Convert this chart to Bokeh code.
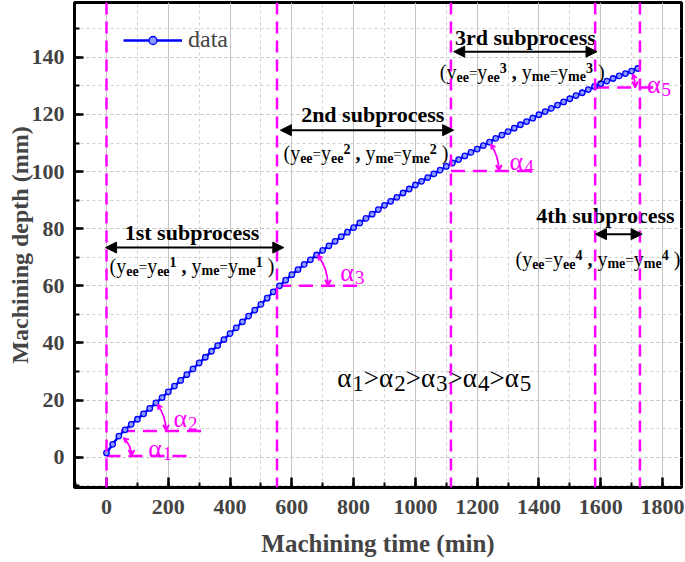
import math
from bokeh.plotting import figure
from bokeh.models import (Range1d, FixedTicker, Span, Arrow, NormalHead, VeeHead,
                          ColumnDataSource, Legend, LegendItem)
from bokeh.core.properties import value
from bokeh.embed import file_html
from bokeh.resources import INLINE

# ---------------- data ----------------
time_min = list(range(0, 1740, 20))
depth_mm = [1.5, 4.5, 7.4, 9.6, 11.5, 13.3, 15.2, 17.1, 19.0, 20.9,
            22.9, 24.9, 26.9, 28.9, 30.9, 33.0, 35.0, 37.1, 39.1, 41.2,
            43.3, 45.3, 47.4, 49.4, 51.5, 53.5, 55.7, 57.9, 60.0, 62.0,
            63.9, 65.7, 67.5, 69.1, 70.8, 72.4, 74.0, 75.6, 77.2, 78.8,
            80.4, 82.0, 83.6, 85.1, 86.7, 88.2, 89.6, 91.0, 92.5, 93.9,
            95.3, 96.6, 97.9, 99.2, 100.5, 101.8, 103.0, 104.2, 105.5, 106.7,
            107.9, 109.1, 110.3, 111.6, 112.8, 114.0, 115.2, 116.4, 117.5, 118.7,
            119.9, 121.0, 122.1, 123.3, 124.4, 125.5, 126.6, 127.6, 128.7, 129.8,
            130.8, 131.7, 132.6, 133.5, 134.3, 135.2, 136.1]

x_ticks = [0, 200, 400, 600, 800, 1000, 1200, 1400, 1600, 1800]
y_ticks = [0, 20, 40, 60, 80, 100, 120, 140]

# subprocess boundaries (min)
bound_t = [0, 552, 1115, 1582, 1727]
# angle reference lines
ref_x0 = [0, 47, 552, 1115, 1582]
ref_x1 = [278, 330, 820, 1392, 1777]
ref_y = [0.4, 9.2, 60.0, 100.2, 129.4]
arc_r = [25, 45, 51, 48, 40]
arc_deg = [47, 36, 37, 34, 20]
alpha_x = [135, 217, 757, 1305, 1750]
alpha_y = [2.9, 13.5, 64.7, 103.7, 130.6]
alpha_sub = ["1", "2", "3", "4", "5"]

# subprocess arrows / titles / formulas
sub_names = ["1st subprocess", "2nd subprocess", "3rd subprocess", "4th subprocess"]
sub_idx = ["1", "2", "3", "4"]
arrow_x0 = [-3, 563, 1124, 1583]
arrow_x1 = [574, 1124, 1588, 1734]
arrow_y = [73.4, 114.5, 142.0, 78.1]
title_x = [277, 862, 1356, 1615]
title_y = [78.6, 120.1, 146.9, 84.5]
form_x = [10, 573, 1079, 1324]
form_y = [67.0, 106.5, 134.9, 69.5]

SERIF = "Liberation Serif"
MAG = "#FF00FF"
BLUE = "#0000FF"

X0, X1 = -103.6, 1861.5
Y0, Y1 = -10.6, 159.2
FRAME_W, FRAME_H = 607, 485
kx = FRAME_W / (X1 - X0)
ky = FRAME_H / (Y1 - Y0)

p = figure(width=685, height=562, output_backend="svg", toolbar_location=None,
           x_range=Range1d(X0, X1), y_range=Range1d(Y0, Y1),
           min_border_left=74, min_border_right=4, min_border_top=2, min_border_bottom=75)
p.background_fill_color = "white"
p.border_fill_color = "white"
p.outline_line_color = "black"
p.outline_line_width = 3

# axes
for ax in (p.xaxis[0], p.yaxis[0]):
    ax.axis_line_width = 3
    ax.major_tick_line_width = 2.5
    ax.minor_tick_line_width = 2
    ax.major_tick_out = 0
    ax.minor_tick_out = 0
    ax.major_label_text_font = SERIF
    ax.major_label_text_font_style = "bold"
    ax.major_label_text_font_size = "22px"
    ax.axis_label_text_font = SERIF
    ax.axis_label_text_font_style = "bold"
p.xaxis.ticker = FixedTicker(ticks=x_ticks, minor_ticks=list(range(-100, 1900, 100)))
p.yaxis.ticker = FixedTicker(ticks=y_ticks, minor_ticks=list(range(-10, 160, 10)))
p.xaxis.major_tick_in = 10
p.xaxis.minor_tick_in = 5
p.yaxis.major_tick_in = 9
p.yaxis.minor_tick_in = 5
p.xaxis.major_label_standoff = 12
p.yaxis.major_label_standoff = 10
p.xaxis.axis_label = "Machining time (min)"
p.yaxis.axis_label = "Machining depth (mm)"
p.xaxis.axis_label_text_font_size = "25px"
p.yaxis.axis_label_text_font_size = "24px"
p.xaxis.axis_label_standoff = 13
p.yaxis.axis_label_standoff = -4

# grid
p.xgrid.grid_line_color = "#c4c4c4"
p.xgrid.grid_line_width = 1
p.xgrid.minor_grid_line_color = "#d0d0d0"
p.xgrid.minor_grid_line_dash = "3 3"
p.ygrid.grid_line_color = "#c4c4c4"
p.ygrid.grid_line_dash = "3 3"
p.ygrid.minor_grid_line_color = "#d0d0d0"
p.ygrid.minor_grid_line_dash = "3 3"

# boundaries
for t in bound_t:
    p.add_layout(Span(location=t, dimension="height", line_color=MAG,
                      line_dash="12 7", line_width=2.5))

# reference horizontal lines
p.segment(x0=ref_x0, x1=ref_x1, y0=ref_y, y1=ref_y, line_color=MAG,
          line_dash="14 8", line_width=2.5)

# angle arcs
p.arc(x=ref_x0, y=ref_y, radius=arc_r, radius_units="screen",
      start_angle=[0] * 5, end_angle=[math.radians(d) for d in arc_deg],
      line_color=MAG, line_width=1.8)
for vx, vy, r, d in zip(ref_x0, ref_y, arc_r, arc_deg):
    ex = vx + r / kx
    p.add_layout(Arrow(end=VeeHead(size=6, line_color=MAG, line_width=1.6),
                       x_start=ex, y_start=vy + 4 / ky, x_end=ex, y_end=vy,
                       line_color=MAG, line_width=1.6))
    th = math.radians(d)
    bx = vx + r * math.cos(th) / kx
    by = vy + r * math.sin(th) / ky
    p.add_layout(Arrow(end=VeeHead(size=5, line_color=MAG, line_width=1.4),
                       x_start=bx + 4 * math.sin(th) / kx, y_start=by - 4 * math.cos(th) / ky,
                       x_end=bx, y_end=by, line_color=MAG, line_width=1.4))

# data
r_line = p.line(time_min, depth_mm, line_color=BLUE, line_width=2.5)
r_pts = p.scatter(time_min, depth_mm, marker="circle", size=5.5, line_color=BLUE,
                  line_width=1.3, fill_color="#8c9bff")

legend = Legend(items=[LegendItem(label="data", renderers=[r_line, r_pts])],
                location=(39, 424), glyph_width=59, label_standoff=6,
                label_text_font=SERIF, label_text_font_size="24px",
                border_line_alpha=0, background_fill_alpha=0, padding=10, margin=0)
p.add_layout(legend)

# black double arrows
for a0, a1, ay in zip(arrow_x0, arrow_x1, arrow_y):
    p.add_layout(Arrow(start=NormalHead(size=11, fill_color="black", line_color="black"),
                       end=NormalHead(size=11, fill_color="black", line_color="black"),
                       x_start=a0, y_start=ay, x_end=a1, y_end=ay,
                       line_color="black", line_width=2))

p.text(x=title_x, y=title_y, text=sub_names, text_font=value(SERIF),
       text_font_style="bold", text_font_size="22px", text_align="center",
       text_baseline="alphabetic", text_color="black")

# rich text helper
W_REG = {'(': .333, ')': .333, 'y': .5, '=': .564, ',': .25, ' ': .25,
         'e': .444, 'm': .778, '>': .564, 'α': .56}
W_BOLD = {'e': .444, 'm': .833, ',': .25, ' ': .25, '(': .333, ')': .333}


def tw(s, size, bold):
    tab = W_BOLD if bold else W_REG
    return sum(tab.get(c, .5) for c in s) * size


def add_rich(x, y, pieces, color):
    d = dict(x=[], y=[], text=[], xo=[], yo=[], fs=[], fst=[])
    off = 0.0
    for s, size, bold, dy in pieces:
        lead = len(s) - len(s.lstrip(" "))
        st = s.strip(" ")
        if st:
            d["x"].append(x)
            d["y"].append(y)
            d["text"].append(st)
            d["xo"].append(off + lead * 0.25 * size)
            d["yo"].append(dy)
            d["fs"].append(f"{size}px")
            d["fst"].append("bold" if bold else "normal")
        off += tw(s, size, bold)
    src = ColumnDataSource(d)
    p.text(x="x", y="y", text="text", x_offset="xo", y_offset="yo",
           text_font_size="fs", text_font_style="fst", text_font=value(SERIF),
           text_color=color, text_align="left", text_baseline="alphabetic", source=src)


for fx, fy, k in zip(form_x, form_y, sub_idx):
    add_rich(fx, fy, [("(", 20, False, 0), ("y", 20, False, 0), ("ee", 14, True, 5),
                      ("=", 15, False, 1), ("y", 20, False, 0), ("ee", 14, True, 5),
                      (k, 14, True, -4), (" , ", 20, True, 0), ("y", 20, False, 0),
                      ("me", 14, True, 5), ("=", 15, False, 1), ("y", 20, False, 0),
                      ("me", 14, True, 5), (k, 14, True, -4), (" )", 20, False, 0)], "black")

for ax_, ay_, s in zip(alpha_x, alpha_y, alpha_sub):
    add_rich(ax_, ay_, [("α", 26, False, 0), (s, 19, False, 5)], MAG)

ineq = []
for i, s in enumerate(alpha_sub):
    ineq.append(("α", 27, False, 0))
    ineq.append((s, 23, False, 6))
    if i < len(alpha_sub) - 1:
        ineq.append((">", 27, False, 0))
add_rich(747, 27.8, ineq, "black")

open("out.html", "w").write(file_html(p, INLINE))
